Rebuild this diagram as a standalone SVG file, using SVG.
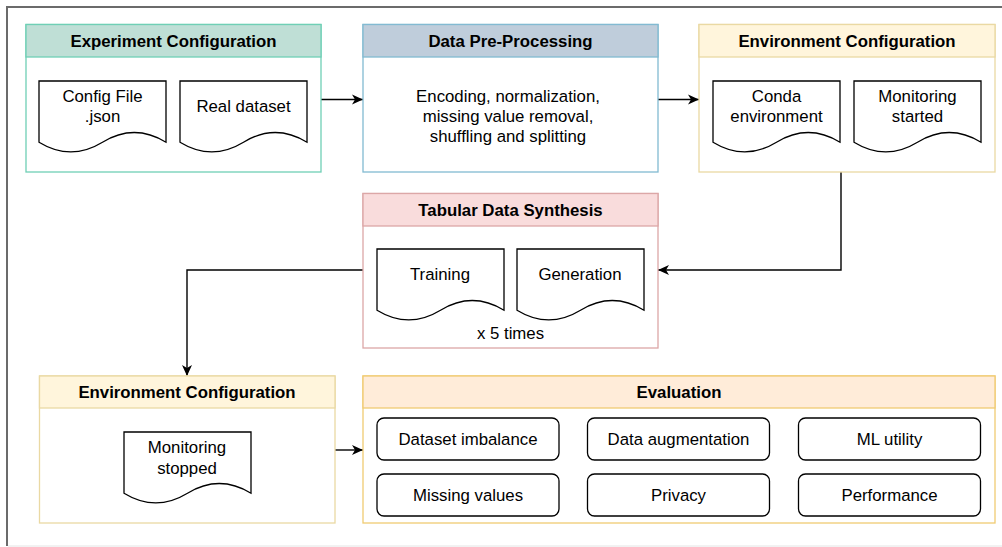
<svg xmlns="http://www.w3.org/2000/svg" width="1002" height="547" viewBox="0 0 1002 547">
  <defs>
    <style>
      .title { font-family: "Liberation Sans", Arial, sans-serif; font-size: 16.8px; font-weight: bold; fill: #000; text-anchor: middle; }
      .txt { font-family: "Liberation Sans", Arial, sans-serif; font-size: 16.8px; fill: #000; text-anchor: middle; }
      .doc { fill: #fff; stroke: #000; stroke-width: 1.3; }
      .item { fill: #fff; stroke: #000; stroke-width: 1.3; }
      .edge { fill: none; stroke: #000; stroke-width: 1.4; }
      .teal { stroke: #6fcfb5; stroke-width: 1.3; }
      .blue { stroke: #82bad2; stroke-width: 1.3; }
      .yellow { stroke: #ead9a3; stroke-width: 1.3; }
      .pink { stroke: #dca7a7; stroke-width: 1.3; }
      .orange { stroke: #f0cb72; stroke-width: 1.3; }
    </style>
    <!-- document shape with wavy bottom, 127 x 72 -->
    <path id="docShape" d="M0,0 H127 V61.2 Q95.25,41.8 63.5,61.2 Q31.75,80.6 0,61.2 Z"/>
    <marker id="arrow" markerUnits="userSpaceOnUse" markerWidth="13" markerHeight="12" refX="11" refY="6" orient="auto">
      <path d="M0,1 L11,6 L0,11 L3,6 Z" fill="#000"/>
    </marker>
  </defs>

  <rect width="1002" height="547" fill="#fff"/>

  <!-- outer frame -->
  <line x1="6" y1="7" x2="1002" y2="7" stroke="#6b6b6b" stroke-width="2"/>
  <line x1="7" y1="6" x2="7" y2="546" stroke="#6b6b6b" stroke-width="2"/>
  <line x1="8" y1="546" x2="1002" y2="546" stroke="#e4e4e4" stroke-width="1"/>

  <!-- connectors -->
  <g id="connectors">
    <line class="edge" x1="321" y1="99.5" x2="363" y2="99.5" marker-end="url(#arrow)"/>
    <line class="edge" x1="658" y1="99.5" x2="699" y2="99.5" marker-end="url(#arrow)"/>
    <polyline class="edge" points="841,172 841,270 658,270" marker-end="url(#arrow)"/>
    <polyline class="edge" points="363,270 187,270 187,376" marker-end="url(#arrow)"/>
    <line class="edge" x1="335" y1="450" x2="363" y2="450" marker-end="url(#arrow)"/>
  </g>

  <!-- Experiment Configuration -->
  <g id="experiment-configuration">
    <rect x="26" y="24.5" width="295" height="147.5" fill="#fff" class="teal"/>
    <rect x="26" y="24.5" width="295" height="32.5" fill="#bfdfd6" class="teal"/>
    <text class="title" x="173.5" y="47">Experiment Configuration</text>
    <use href="#docShape" class="doc" x="39" y="81"/>
    <text class="txt" x="102.5" y="102">Config File</text>
    <text class="txt" x="102.5" y="122">.json</text>
    <use href="#docShape" class="doc" x="180" y="81"/>
    <text class="txt" x="243.5" y="112">Real dataset</text>
  </g>

  <!-- Data Pre-Processing -->
  <g id="data-pre-processing">
    <rect x="363" y="24.5" width="295" height="147.5" fill="#fff" class="blue"/>
    <rect x="363" y="24.5" width="295" height="32.5" fill="#bfcddb" class="blue"/>
    <text class="title" x="510.5" y="47">Data Pre-Processing</text>
    <text class="txt" x="508" y="102">Encoding, normalization,</text>
    <text class="txt" x="508" y="122">missing value removal,</text>
    <text class="txt" x="508" y="142">shuffling and splitting</text>
  </g>

  <!-- Environment Configuration (start) -->
  <g id="environment-configuration-start">
    <rect x="699" y="24.5" width="296" height="147.5" fill="#fff" class="yellow"/>
    <rect x="699" y="24.5" width="296" height="32.5" fill="#fff5dc" class="yellow"/>
    <text class="title" x="847" y="47">Environment Configuration</text>
    <use href="#docShape" class="doc" x="713" y="81"/>
    <text class="txt" x="776.5" y="102">Conda</text>
    <text class="txt" x="776.5" y="122">environment</text>
    <use href="#docShape" class="doc" x="854" y="81"/>
    <text class="txt" x="917.5" y="102">Monitoring</text>
    <text class="txt" x="917.5" y="122">started</text>
  </g>

  <!-- Tabular Data Synthesis -->
  <g id="tabular-data-synthesis">
    <rect x="363" y="193.5" width="295" height="154.5" fill="#fff" class="pink"/>
    <rect x="363" y="193.5" width="295" height="32.5" fill="#f9dcdc" class="pink"/>
    <text class="title" x="510.5" y="216">Tabular Data Synthesis</text>
    <use href="#docShape" class="doc" x="377" y="249"/>
    <text class="txt" x="440" y="280">Training</text>
    <use href="#docShape" class="doc" x="517" y="249"/>
    <text class="txt" x="580" y="280">Generation</text>
    <text class="txt" x="510.5" y="339">x 5 times</text>
  </g>

  <!-- Environment Configuration (end) -->
  <g id="environment-configuration-end">
    <rect x="39.5" y="376" width="295.5" height="147" fill="#fff" class="yellow"/>
    <rect x="39.5" y="376" width="295.5" height="32" fill="#fff5dc" class="yellow"/>
    <text class="title" x="187" y="398">Environment Configuration</text>
    <use href="#docShape" class="doc" x="124" y="432"/>
    <text class="txt" x="187" y="453">Monitoring</text>
    <text class="txt" x="187" y="474">stopped</text>
  </g>

  <!-- Evaluation -->
  <g id="evaluation">
    <rect x="363" y="376" width="632" height="147" fill="#fff" class="orange"/>
    <rect x="363" y="376" width="632" height="32" fill="#ffecd9" class="orange"/>
    <text class="title" x="679" y="398">Evaluation</text>
    <g id="eval-dataset-imbalance">
      <rect class="item" x="377" y="418" width="182" height="42" rx="7"/>
      <text class="txt" x="468" y="445">Dataset imbalance</text>
    </g>
    <g id="eval-data-augmentation">
      <rect class="item" x="587.5" y="418" width="182" height="42" rx="7"/>
      <text class="txt" x="678.5" y="445">Data augmentation</text>
    </g>
    <g id="eval-ml-utility">
      <rect class="item" x="798.5" y="418" width="182" height="42" rx="7"/>
      <text class="txt" x="889.5" y="445">ML utility</text>
    </g>
    <g id="eval-missing-values">
      <rect class="item" x="377" y="474" width="182" height="42" rx="7"/>
      <text class="txt" x="468" y="501">Missing values</text>
    </g>
    <g id="eval-privacy">
      <rect class="item" x="587.5" y="474" width="182" height="42" rx="7"/>
      <text class="txt" x="678.5" y="501">Privacy</text>
    </g>
    <g id="eval-performance">
      <rect class="item" x="798.5" y="474" width="182" height="42" rx="7"/>
      <text class="txt" x="889.5" y="501">Performance</text>
    </g>
  </g>
</svg>
